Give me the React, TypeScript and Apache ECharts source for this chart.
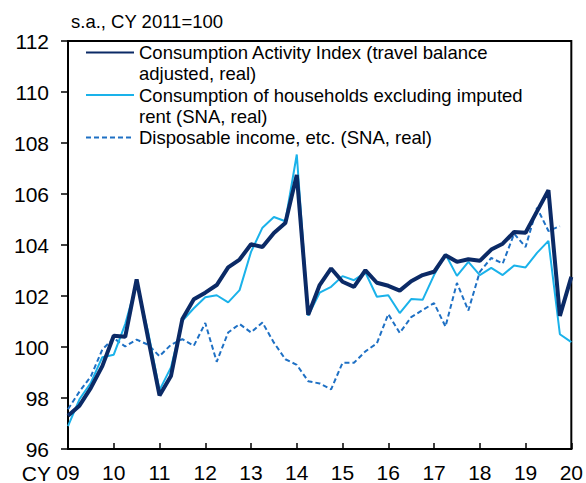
import React, { useEffect, useRef } from "react";
import * as echarts from "echarts";

const years = ["09", "10", "11", "12", "13", "14", "15", "16", "17", "18", "19", "20"];
const quarterNames = ["Q1", "Q2", "Q3", "Q4"];
const quarters: string[] = [];
years.forEach((y, i) => {
  const qs = i < years.length - 1 ? quarterNames : ["Q1"];
  qs.forEach((q) => quarters.push(`${y} ${q}`));
});

const activityIndex = [
  97.3, 97.7, 98.4, 99.25, 100.44, 100.4, 102.65, 100.35, 98.1, 98.86, 101.1, 101.87,
  102.13, 102.43, 103.12, 103.43, 104.03, 103.92, 104.47, 104.86, 106.75, 101.26, 102.43, 103.08,
  102.56, 102.36, 103.01, 102.52, 102.4, 102.21, 102.58, 102.82, 102.95, 103.6, 103.34, 103.44,
  103.38, 103.82, 104.05, 104.51, 104.48, 105.32, 106.15, 101.22, 102.75,
];

const householdConsumption = [
  96.9, 97.95, 98.6, 99.6, 99.7, 100.9, 102.5, 100.6, 98.31, 99.2, 101.03, 101.52,
  101.95, 102.03, 101.75, 102.23, 103.73, 104.68, 105.1, 104.93, 107.55, 101.23, 102.13, 102.36,
  102.78, 102.62, 102.92, 101.97, 102.03, 101.33, 101.88, 101.85, 102.82, 103.64, 102.79, 103.34,
  102.82, 103.1, 102.82, 103.2, 103.12, 103.69, 104.16, 100.5, 100.19,
];

const disposableIncome = [
  97.56, 98.25, 98.85, 99.9, 100.35, 100.02, 100.29, 100.09, 99.64, 100.09, 100.31, 100.05,
  100.94, 99.42, 100.57, 100.9, 100.57, 100.96, 100.17, 99.52, 99.3, 98.66, 98.57, 98.34,
  99.38, 99.38, 99.83, 100.14, 101.29, 100.55, 101.17, 101.45, 101.72, 100.8, 102.51, 101.43,
  102.95, 103.49, 103.27, 104.44, 103.92, 105.46, 104.55, 104.74,
];

const seriesNames = [
  "Consumption Activity Index (travel balance\nadjusted, real)",
  "Consumption of households excluding imputed\nrent (SNA, real)",
  "Disposable income, etc. (SNA, real)",
];

const FONT = "'Liberation Sans', Arial, sans-serif";

export default function App() {
  const ref = useRef<HTMLDivElement>(null);
  useEffect(() => {
    if (!ref.current) return;
    const chart = echarts.init(ref.current, undefined, { renderer: "svg" });
    chart.setOption({
      animation: false,
      backgroundColor: "#fff",
      textStyle: { fontFamily: FONT },
      grid: {
        left: 68,
        right: 14,
        top: 41,
        bottom: 33,
        show: true,
        borderColor: "#000",
        borderWidth: 2,
      },
      legend: {
        orient: "vertical",
        left: 85,
        top: 21,
        padding: 0,
        itemGap: -20.5,
        itemWidth: 48,
        itemHeight: 14,
        data: seriesNames,
        itemStyle: { opacity: 0 },
        formatter: (name: string) => (name.includes("\n") ? "\n" + name : "\n" + name + "\n"),
        textStyle: { fontSize: 18.5, lineHeight: 21, color: "#000", fontFamily: FONT },
      },
      graphic: [
        {
          type: "text",
          left: 71,
          top: 12,
          style: { text: "s.a., CY 2011=100", fontSize: 18.5, fill: "#000", fontFamily: FONT },
        },
        {
          type: "text",
          x: 51,
          y: 473,
          style: {
            text: "CY",
            fontSize: 21,
            fill: "#000",
            fontFamily: FONT,
            align: "right",
            verticalAlign: "middle",
          },
        },
      ],
      xAxis: {
        type: "category",
        data: quarters,
        boundaryGap: false,
        axisLine: { lineStyle: { color: "#000", width: 2 } },
        axisTick: { inside: true, length: 6, interval: 3, lineStyle: { color: "#000", width: 1.5 } },
        axisLabel: {
          interval: 3,
          fontSize: 21,
          margin: 13,
          color: "#000",
          fontFamily: FONT,
          formatter: (v: string) => v.split(" ")[0],
        },
        splitLine: { show: false },
      },
      yAxis: {
        type: "value",
        min: 96,
        max: 112,
        interval: 2,
        axisLine: { show: true, lineStyle: { color: "#000", width: 2 } },
        axisTick: { show: true, length: 7, lineStyle: { color: "#000", width: 1.5 } },
        axisLabel: { fontSize: 21, margin: 19, color: "#000", fontFamily: FONT },
        splitLine: { show: false },
      },
      series: [
        {
          name: seriesNames[2],
          type: "line",
          data: disposableIncome,
          symbol: "none",
          lineStyle: { color: "#1e70c4", width: 2, type: [5, 3] },
          itemStyle: { color: "#1e70c4" },
          z: 2,
        },
        {
          name: seriesNames[1],
          type: "line",
          data: householdConsumption,
          symbol: "none",
          lineStyle: { color: "#1ab2ea", width: 2 },
          itemStyle: { color: "#1ab2ea" },
          z: 3,
        },
        {
          name: seriesNames[0],
          type: "line",
          data: activityIndex,
          symbol: "none",
          lineStyle: { color: "#0b2a66", width: 4 },
          itemStyle: { color: "#0b2a66" },
          z: 4,
        },
      ],
    });
    return () => chart.dispose();
  }, []);
  return (
    <div
      ref={ref}
      style={{ position: "fixed", left: 0, top: 0, width: 586, height: 483, background: "#fff" }}
    />
  );
}
